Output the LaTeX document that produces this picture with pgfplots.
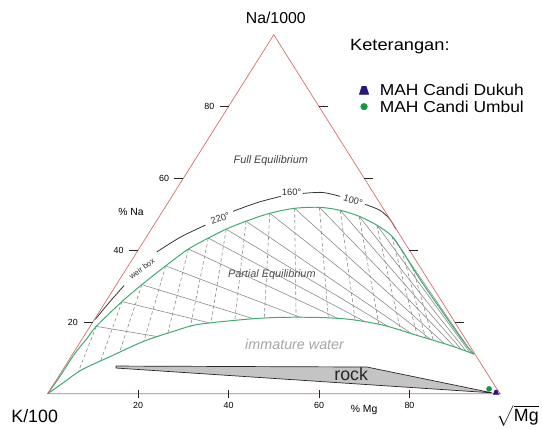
\documentclass[border=0pt]{standalone}
\usepackage{pgfplots}
\pgfplotsset{compat=1.18}
\usepackage{amsmath}
\usepackage{fontspec}
\setmainfont{Liberation Sans}
\definecolor{edgered}{RGB}{214,108,108}
\definecolor{curvegreen}{RGB}{64,170,115}
\definecolor{gridgray}{RGB}{138,138,138}
\definecolor{rockgray}{RGB}{196,196,196}
\definecolor{navypt}{RGB}{40,25,120}
\definecolor{ptgreen}{RGB}{20,150,70}
\newcommand\fs[1]{\fontsize{#1}{#1}\selectfont}
\pgfdeclareplotmark{trap}{%
  \pgfpathmoveto{\pgfqpoint{-\pgfplotmarksize}{-0.85\pgfplotmarksize}}%
  \pgfpathlineto{\pgfqpoint{\pgfplotmarksize}{-0.85\pgfplotmarksize}}%
  \pgfpathlineto{\pgfqpoint{0.45\pgfplotmarksize}{0.85\pgfplotmarksize}}%
  \pgfpathlineto{\pgfqpoint{-0.45\pgfplotmarksize}{0.85\pgfplotmarksize}}%
  \pgfpathclose
  \pgfusepathqfillstroke}
\begin{document}
\begin{tikzpicture}
\begin{axis}[
  width=542bp, height=432bp, scale only axis,
  xmin=0, xmax=542, ymin=0, ymax=432, y dir=reverse,
  hide axis, clip=false,
  every axis plot/.append style={forget plot},
  gs/.style={gridgray, line width=0.6pt, mark=none},
  gd/.style={gridgray, line width=0.6pt, mark=none, dash pattern=on 3.5pt off 2.5pt},
]
% bounding box
\addplot[draw=none, mark=none] coordinates {(0,0) (542,432)};

% Na/K isotherms (solid, toward Mg corner)
\addplot[gs] coordinates {(97,329) (504,397)};
\addplot[gs] coordinates {(123,304) (504,397)};
\addplot[gs] coordinates {(143,287) (504,397)};
\addplot[gs] coordinates {(167,268) (504,397)};
\addplot[gs] coordinates {(190,251) (504,397)};
\addplot[gs] coordinates {(210,240) (504,397)};
\addplot[gs] coordinates {(228,231) (504,397)};
\addplot[gs] coordinates {(248,223) (504,397)};
\addplot[gs] coordinates {(272,215) (504,397)};
\addplot[gs] coordinates {(297,210) (504,397)};
\addplot[gs] coordinates {(322,209) (504,397)};
\addplot[gs] coordinates {(343,212) (504,397)};
\addplot[gs] coordinates {(362,218) (504,397)};
\addplot[gs] coordinates {(380,227) (504,397)};
\addplot[gs] coordinates {(395,238) (504,397)};

% K/Mg isotherms (dashed)
\addplot[gd] coordinates {(97,329) (70.2,397)};
\addplot[gd] coordinates {(123,304) (89.5,397)};
\addplot[gd] coordinates {(143,287) (106.7,397)};
\addplot[gd] coordinates {(167,268) (129.8,397)};
\addplot[gd] coordinates {(190,251) (154.2,397)};
\addplot[gd] coordinates {(210,240) (178.2,397)};
\addplot[gd] coordinates {(228,231) (201.2,397)};
\addplot[gd] coordinates {(248,223) (228.3,397)};
\addplot[gd] coordinates {(272,215) (262.4,397)};
\addplot[gd] coordinates {(297,210) (299.5,397)};
\addplot[gd] coordinates {(322,209) (337.1,397)};
\addplot[gd] coordinates {(343,212) (368.0,397)};
\addplot[gd] coordinates {(362,218) (394.7,397)};
\addplot[gd] coordinates {(380,227) (418.2,397)};
\addplot[gd] coordinates {(395,238) (435.6,397)};
\addplot[gd] coordinates {(405,252) (444.3,397)};
\addplot[gd] coordinates {(416,270) (452.2,397)};

% white area below the immature-water boundary
\addplot[fill=white, draw=none, mark=none] coordinates {
 (48,397) (65,385) (82,373) (112,359) (145,344) (178,333) (200,327) (247,322)
 (280,320) (320,320) (353,322) (387,328) (420,338) (453,348) (478,357)
 (504,397) (48,397)};

% upper green curve
\addplot[curvegreen, line width=1pt, smooth, mark=none] coordinates {
 (48,397) (60,380) (75,357) (87,342) (97,329) (123,304) (143,287) (167,268)
 (190,251) (210,240) (228,231) (248,223) (272,215) (297,210) (322,209)
 (343,212) (362,218) (380,227) (395,238) (405,252) (416,270) (429,290)
 (443,310) (457,330) (470,348) (478,357)};
% lower green curve
\addplot[curvegreen, line width=1pt, smooth, mark=none] coordinates {
 (48,397) (65,385) (82,373) (112,359) (145,344) (178,333) (200,327) (247,322)
 (280,320) (320,320) (353,322) (387,328) (420,338) (453,348) (478,357)};

% full equilibrium (black) curve segments
\addplot[black!80, line width=0.8pt, smooth, mark=none] coordinates {(96,322) (110,305) (125,288)};
\addplot[black!80, line width=0.8pt, smooth, mark=none] coordinates {(158,254) (182,239) (207,227)};
\addplot[black!80, line width=0.8pt, smooth, mark=none] coordinates {(235,213) (260,204) (283,198)};
\addplot[black!80, line width=0.8pt, smooth, mark=none] coordinates {(305,195) (325,194) (343,198)};
\addplot[black!80, line width=0.8pt, smooth, mark=none] coordinates {(368,206) (383,212) (393,221) (399,231)};

% triangle
\addplot[edgered, line width=0.7pt, mark=none] coordinates {(48,397) (276,35) (504,397) (48,397)};

% ticks
\addplot[black!85, line width=0.6pt, mark=none] coordinates {(84.6,324.6) (93.6,324.6)};
\addplot[black!85, line width=0.6pt, mark=none] coordinates {(130.2,252.2) (139.2,252.2)};
\addplot[black!85, line width=0.6pt, mark=none] coordinates {(175.8,179.8) (184.8,179.8)};
\addplot[black!85, line width=0.6pt, mark=none] coordinates {(221.4,107.4) (230.4,107.4)};
\addplot[black!85, line width=0.6pt, mark=none] coordinates {(458.4,324.6) (467.4,324.6)};
\addplot[black!85, line width=0.6pt, mark=none] coordinates {(412.8,252.2) (421.8,252.2)};
\addplot[black!85, line width=0.6pt, mark=none] coordinates {(367.2,179.8) (376.2,179.8)};
\addplot[black!85, line width=0.6pt, mark=none] coordinates {(321.6,107.4) (330.6,107.4)};
\addplot[black!85, line width=0.6pt, mark=none] coordinates {(139.2,393) (139.2,401)};
\addplot[black!85, line width=0.6pt, mark=none] coordinates {(230.4,393) (230.4,401)};
\addplot[black!85, line width=0.6pt, mark=none] coordinates {(321.6,393) (321.6,401)};
\addplot[black!85, line width=0.6pt, mark=none] coordinates {(412.8,393) (412.8,401)};

% rock field
\addplot[fill=rockgray, draw=black!85, line width=0.7pt, mark=none] coordinates {
 (117,369) (370,370) (496,396) (117,371) (117,369)};

% samples
\addplot[only marks, mark=*, mark size=2.6pt, color=ptgreen] coordinates {(493,392)};
\addplot[only marks, mark=trap, mark size=2.6pt, color=navypt, fill=navypt] coordinates {(500,395.5)};

% legend markers
\addplot[only marks, mark=trap, mark size=4.8pt, color=navypt, fill=navypt] coordinates {(367,91)};
\addplot[only marks, mark=*, mark size=3.4pt, color=ptgreen] coordinates {(367,107.5)};

% texts
\node[font=\fs{16}] at (278,18) {Na/1000};
\node[font=\fs{18}, anchor=west] at (8,420) {K/100};
\node[font=\fs{18}] at (522,419) {$\sqrt{\text{Mg}}$};
\node[font=\fs{16.5}, anchor=west, xscale=1.12] at (349,47) {Keterangan:};
\node[font=\fs{16}, anchor=west, xscale=1.1] at (379,91) {MAH Candi Dukuh};
\node[font=\fs{16}, anchor=west, xscale=1.1] at (379,107.5) {MAH Candi Umbul};

\node[font=\fs{9}, anchor=east] at (82,324.6) {20};
\node[font=\fs{9}, anchor=east] at (128,252.2) {40};
\node[font=\fs{9}, anchor=east] at (174,179.8) {60};
\node[font=\fs{9}, anchor=east] at (219.5,107.4) {80};
\node[font=\fs{9}] at (139.2,409) {20};
\node[font=\fs{9}] at (230.4,409) {40};
\node[font=\fs{9}] at (321.6,409) {60};
\node[font=\fs{9}] at (412.8,409) {80};
\node[font=\fs{10.5}] at (132,214) {\% Na};
\node[font=\fs{10.5}] at (367,413) {\% Mg};

\node[font=\fs{11}\itshape, text=black!75] at (273,162) {Full Equilibrium};
\node[font=\fs{11}\itshape, text=black!70] at (274,277) {Partial Equilibrium};
\node[font=\fs{14.5}\itshape, text=black!35] at (297,347) {immature water};
\node[font=\fs{18}, text=black!85] at (354,377) {rock};

\node[font=\fs{8}, rotate=37, text=black!80, inner sep=0pt] at (143,271) {weir box};
\node[font=\fs{9.5}, rotate=20, text=black!80] at (222,220) {220°};
\node[font=\fs{9.5}, text=black!80] at (294,194) {160°};
\node[font=\fs{9.5}, rotate=-17, text=black!80] at (356,202) {100°};
\end{axis}
\end{tikzpicture}
\end{document}
